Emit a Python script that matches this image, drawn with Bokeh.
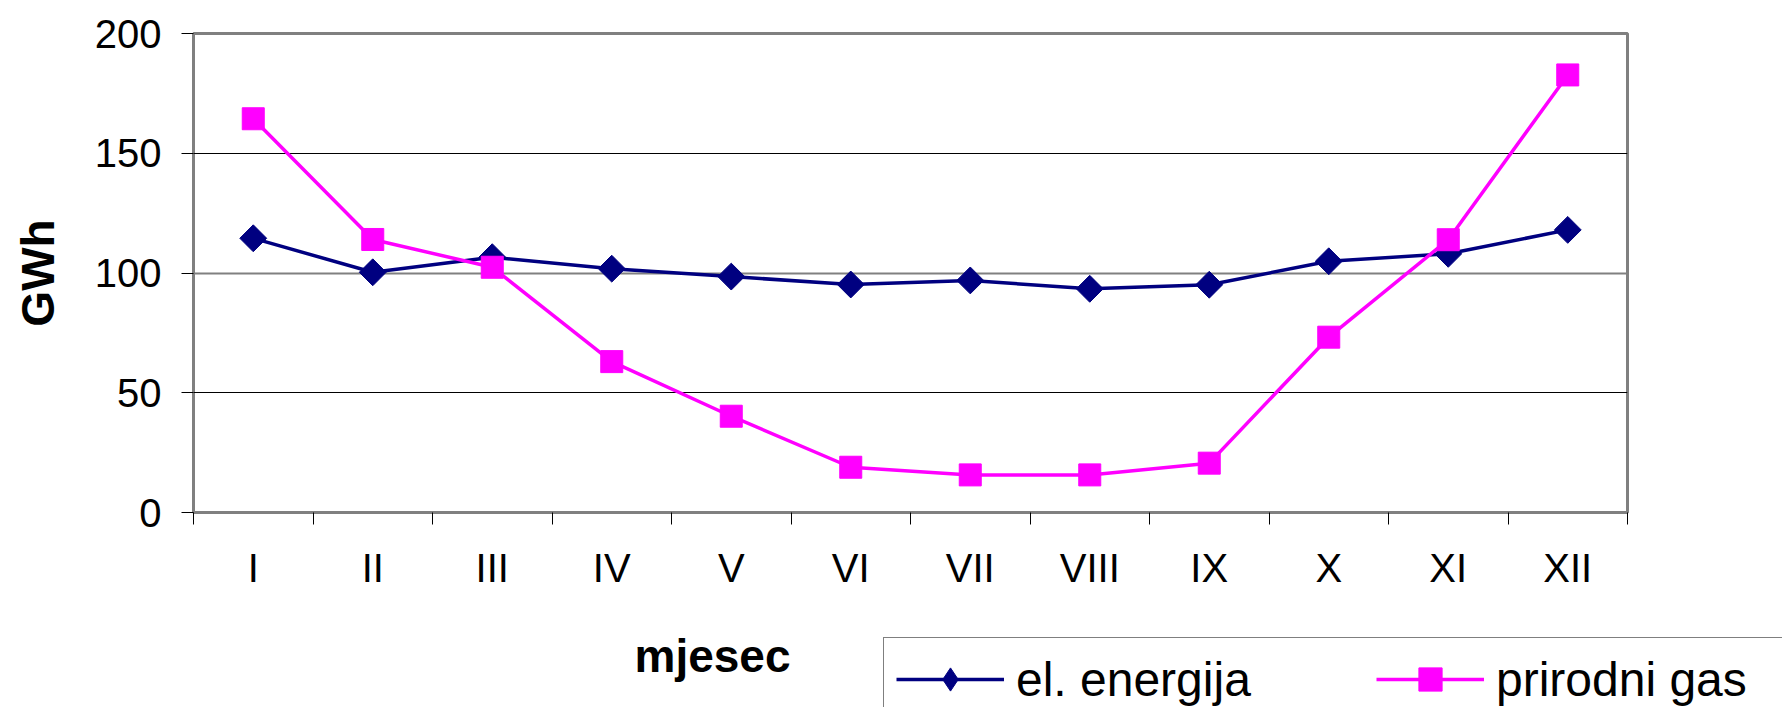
import math
from bokeh.plotting import figure
from bokeh.layouts import column
from bokeh.models import Range1d, FixedTicker, Label, Legend, LegendItem, Grid
from bokeh.embed import file_html
from bokeh.resources import INLINE

# ---- data ----
months = ["I", "II", "III", "IV", "V", "VI", "VII", "VIII", "IX", "X", "XI", "XII"]
el_energija = [114.5, 100.3, 106.6, 101.8, 98.5, 95.2, 96.9, 93.4, 95.1, 104.9, 108.0, 118.0]
prirodni_gas = [164.4, 114.0, 102.4, 63.0, 40.2, 18.9, 15.7, 15.7, 20.6, 73.2, 113.9, 182.7]
y_ticks = [0, 50, 100, 150, 200]
series_names = ["el. energija", "prirodni gas"]
x_title = "mjesec"
y_title = "GWh"

FONT = "Liberation Sans"
NAVY = "#000080"
MAGENTA = "#FF00FF"
GRAY = "#808080"
W = 1782
H_MAIN = 608
H_FOOT = 99

x = [i + 0.5 for i in range(len(months))]

p = figure(width=W, height=H_MAIN, output_backend="svg", toolbar_location=None,
           x_range=Range1d(0, len(months)), y_range=Range1d(y_ticks[0], y_ticks[-1]),
           min_border_left=193, min_border_right=155, min_border_top=33, min_border_bottom=96)
p.frame_align = False
p.background_fill_color = "white"
p.border_fill_color = "white"
p.outline_line_color = GRAY
p.outline_line_width = 3

# grid: black lines at 50 and 150, a grey one at 100 (as in the reference)
p.xgrid.visible = False
p.ygrid.ticker = FixedTicker(ticks=[t for t in y_ticks[1:-1] if t != y_ticks[2]])
p.ygrid.grid_line_color = "black"
p.ygrid.grid_line_width = 1
p.add_layout(Grid(dimension=1, ticker=FixedTicker(ticks=[y_ticks[2]]),
                  grid_line_color=GRAY, grid_line_width=2))

# x axis: labels at category centres, ticks at category boundaries
p.xaxis.ticker = FixedTicker(ticks=x, minor_ticks=list(range(len(months) + 1)))
p.xaxis.major_label_overrides = {xi: m for xi, m in zip(x, months)}
p.xaxis.axis_line_color = None
p.xaxis.major_tick_line_color = None
p.xaxis.major_tick_out = 0
p.xaxis.major_tick_in = 0
p.xaxis.minor_tick_line_color = "black"
p.xaxis.minor_tick_line_width = 1
p.xaxis.minor_tick_out = 12
p.xaxis.minor_tick_in = 0
p.xaxis.major_label_standoff = 21
p.xaxis.major_label_text_font = FONT
p.xaxis.major_label_text_font_size = "40px"
p.xaxis.major_label_text_color = "black"

# y axis
p.yaxis.ticker = FixedTicker(ticks=y_ticks, minor_ticks=[])
p.yaxis.axis_line_color = None
p.yaxis.major_tick_line_color = "black"
p.yaxis.major_tick_out = 12
p.yaxis.major_tick_in = 0
p.yaxis.minor_tick_line_color = None
p.yaxis.major_label_standoff = 20
p.yaxis.major_label_text_font = FONT
p.yaxis.major_label_text_font_size = "40px"
p.yaxis.major_label_text_color = "black"
p.yaxis.axis_label = y_title
p.yaxis.axis_label_text_font = FONT
p.yaxis.axis_label_text_font_size = "46px"
p.yaxis.axis_label_text_font_style = "bold"
p.yaxis.axis_label_text_color = "black"
p.yaxis.axis_label_standoff = 28

# series
p.line(x, el_energija, line_color=NAVY, line_width=3.5)
p.scatter(x, el_energija, marker="square", angle=math.pi / 4, size=19,
          fill_color=NAVY, line_color=NAVY)
p.line(x, prirodni_gas, line_color=MAGENTA, line_width=3.5)
p.scatter(x, prirodni_gas, marker="square", size=22,
          fill_color=MAGENTA, line_color=MAGENTA)

# ---- footer strip: x-axis title and legend ----
p2 = figure(width=W, height=H_FOOT, output_backend="svg", toolbar_location=None,
            x_range=Range1d(0, W), y_range=Range1d(H_FOOT, 0),
            x_axis_type=None, y_axis_type=None, min_border=0)
p2.frame_align = False
p2.outline_line_color = None
p2.background_fill_color = "white"
p2.border_fill_color = "white"
p2.xgrid.visible = False
p2.ygrid.visible = False

p2.add_layout(Label(x=712, y=47, text=x_title, text_align="center",
                    text_baseline="alphabetic", text_font=FONT,
                    text_font_size="46px", text_font_style="bold", text_color="black"))

# legend-only renderers (a single NaN point, so nothing is drawn but the swatch)
nan = [float("nan")]
k1l = p2.line(nan, nan, line_color=NAVY, line_width=3.5)
k1s = p2.scatter(nan, nan, marker="diamond", size=19,
                 fill_color=NAVY, line_color=NAVY)
k2l = p2.line(nan, nan, line_color=MAGENTA, line_width=3.5)
k2s = p2.scatter(nan, nan, marker="square", size=22,
                 fill_color=MAGENTA, line_color=MAGENTA)

legend = Legend(
    items=[LegendItem(label=series_names[0], renderers=[k1l, k1s]),
           LegendItem(label=series_names[1], renderers=[k2l, k2s])],
    orientation="horizontal", location=(883, -14), padding=12, spacing=70,
    glyph_width=108, glyph_height=58, label_standoff=12, label_width=290, margin=0,
    label_text_font=FONT, label_text_font_size="48px", label_text_color="black",
    border_line_color="black", border_line_width=1,
    background_fill_color="white", background_fill_alpha=1)
p2.add_layout(legend, "center")

layout = column(p, p2, spacing=0)
open("out.html", "w").write(file_html(layout, INLINE))
